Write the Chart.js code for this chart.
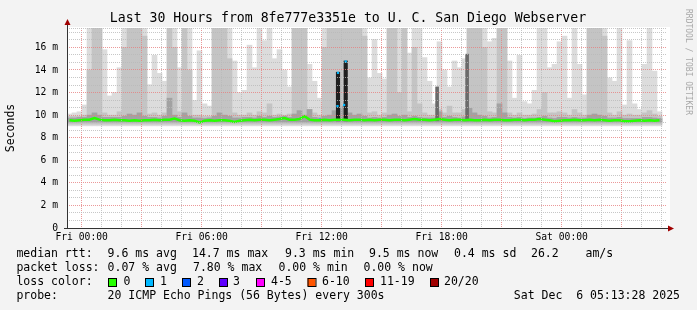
<!DOCTYPE html>
<html>
<head>
<meta charset="utf-8">
<script src="https://cdn.jsdelivr.net/npm/chart.js@4.4.1/dist/chart.umd.min.js"></script>
<style>
  html, body { margin: 0; padding: 0; background: #f3f3f3; }
  canvas { display: block; }
</style>
</head>
<body>
<canvas id="smoke" width="697" height="310"></canvas>
<script>
// time axis in hours, Fri 00:00 = 0
const hourStart = -0.735;
const hourEnd = 29.265;
const colStep = 0.25;

// smoke: top of the light band (outer pings), in ms
const smokeHigh = [
  10.1, 10.2, 10.3, 10.9, 18, 18, 18, 15.8, 11.7, 12.0,
  14.2, 18, 18, 18, 18, 18, 12.7, 15.3, 13.7, 13.0,
  18, 18, 14.2, 18, 18, 11.3, 15.7, 11.0, 10.8, 18,
  18, 18, 18, 14.8, 12.0, 12.2, 16.2, 14.2, 18, 16.6,
  18, 15.0, 15.8, 14.0, 12.5, 18, 18, 18, 14.5, 13.0,
  11.5, 18, 18, 18, 18, 18, 18, 18, 18, 18,
  13.3, 16.7, 13.7, 13.2, 18, 18, 18, 18, 15.5, 18,
  18, 15.1, 13.0, 11.0, 16.5, 14.0, 12.5, 14.8, 14.2, 15.0,
  18, 18, 18, 18, 16.5, 16.8, 18, 18, 14.8, 11.5,
  15.3, 11.2, 11.0, 12.2, 18, 18, 14.2, 14.5, 16.5, 17.0,
  11.5, 18, 14.5, 11.8, 18, 18, 18, 18, 13.3, 13.0,
  18, 10.9, 16.6, 11.0, 10.5, 14.5, 18, 13.9, 10.3
];
// smoke: top of the middle band
const smokeMid = [
  9.9, 9.9, 9.9, 10.0, 14.0, 18, 18, 10.2, 10.0, 10.0,
  10.3, 16.0, 18, 18, 18, 17.0, 10.1, 10.2, 10.0, 10.2,
  18, 16.0, 10.3, 18, 14.0, 10.0, 10.0, 9.9, 9.9, 18,
  18, 18, 15.0, 10.2, 10.0, 10.0, 10.2, 10.0, 10.3, 10.2,
  11.0, 10.0, 10.1, 10.0, 10.1, 18, 18, 18, 10.5, 10.2,
  10.0, 16.0, 18, 18, 18, 18, 18, 18, 18, 17.0,
  10.2, 10.3, 10.0, 10.2, 18, 18, 12.0, 18, 10.3, 16.0,
  11.0, 10.2, 10.0, 10.0, 10.5, 10.2, 10.8, 10.2, 10.2, 10.5,
  18, 18, 18, 16.0, 10.3, 10.2, 18, 18, 10.2, 10.0,
  10.2, 10.0, 10.0, 10.1, 10.5, 12.0, 10.2, 10.2, 10.3, 10.2,
  10.0, 10.5, 10.2, 10.0, 18, 18, 18, 17.0, 10.2, 10.0,
  10.3, 10.0, 10.1, 10.0, 10.0, 10.2, 10.4, 10.1, 9.9
];
// smoke: top of the dark band around the median
const smokeDark = [
  9.75, 9.75, 9.8, 9.8, 10.0, 10.2, 10.0, 9.8, 9.8, 9.8,
  9.8, 9.9, 10.1, 10.0, 10.2, 9.9, 9.8, 9.8, 9.75, 9.9,
  11.5, 10.0, 9.8, 10.2, 9.9, 9.75, 9.75, 9.7, 9.75, 9.9,
  10.2, 10.0, 9.9, 9.75, 9.75, 9.8, 9.8, 9.75, 9.9, 9.8,
  9.9, 9.8, 9.85, 9.9, 9.8, 10.1, 10.4, 10.0, 10.5, 9.8,
  9.75, 9.9, 10.0, 10.4, 10.6, 10.8, 10.2, 10.0, 10.1, 9.9,
  9.75, 9.8, 9.75, 9.8, 10.0, 10.1, 9.9, 10.0, 9.8, 9.9,
  9.8, 9.75, 9.75, 9.75, 10.3, 9.8, 9.9, 9.8, 9.75, 9.85,
  10.6, 10.2, 10.0, 9.9, 9.75, 9.8, 11.0, 10.2, 9.8, 9.75,
  9.8, 9.7, 9.75, 9.75, 9.8, 9.9, 9.75, 9.7, 9.8, 9.8,
  9.75, 9.8, 9.75, 9.75, 10.0, 10.1, 10.0, 9.9, 9.75, 9.75,
  9.8, 9.7, 9.7, 9.7, 9.7, 9.8, 9.8, 9.75, 9.7
];
// median rtt line
const medianRtt = [
  9.55, 9.5, 9.55, 9.6, 9.6, 9.75, 9.6, 9.55, 9.55, 9.6,
  9.55, 9.55, 9.5, 9.55, 9.5, 9.55, 9.55, 9.6, 9.55, 9.6,
  9.6, 9.7, 9.55, 9.5, 9.55, 9.5, 9.35, 9.5, 9.55, 9.5,
  9.55, 9.55, 9.5, 9.4, 9.5, 9.55, 9.6, 9.55, 9.6, 9.6,
  9.55, 9.6, 9.65, 9.75, 9.6, 9.6, 9.65, 9.9, 9.6, 9.55,
  9.55, 9.6, 9.55, 9.6, 9.6, 9.6, 9.55, 9.6, 9.6, 9.55,
  9.6, 9.55, 9.6, 9.6, 9.55, 9.6, 9.6, 9.55, 9.6, 9.65,
  9.6, 9.6, 9.55, 9.6, 9.65, 9.6, 9.55, 9.6, 9.6, 9.55,
  9.6, 9.55, 9.55, 9.6, 9.55, 9.6, 9.6, 9.55, 9.55, 9.6,
  9.6, 9.55, 9.6, 9.6, 9.65, 9.6, 9.55, 9.45, 9.5, 9.55,
  9.55, 9.6, 9.55, 9.55, 9.6, 9.55, 9.6, 9.55, 9.5, 9.55,
  9.55, 9.45, 9.45, 9.5, 9.55, 9.5, 9.55, 9.5, 9.55
];
const smokeLow = 9.05, midLow = 9.2, darkLow = 9.38;

// short periods where the median jumped (all pings slow)
const spikeHours = [12.815, 13.2];
const spikeTops = [13.8, 14.8];
const greySpikeHours = [17.77, 19.27];
const greySpikeTops = [12.5, 15.4];
// median points with 1/20 loss
const lossOneHours = [12.815, 12.79, 13.2, 13.12, 11.92, 16.75];
const lossOneRtt = [13.75, 10.8, 14.75, 10.9, 9.6, 9.65];

const xLabels = { 0: 'Fri 00:00', 6: 'Fri 06:00', 12: 'Fri 12:00', 18: 'Fri 18:00', 24: 'Sat 00:00' };
const yMax = 17.72;

const lossColors = ['#26ff00', '#00b8ff', '#0059ff', '#5e00ff', '#ff00fe', '#ff5500', '#ff0000', '#a00000'];
const lossNames = ['0', '1', '2', '3', '4-5', '6-10', '11-19', '20/20'];

const colHour = i => hourStart + colStep * (i + 0.5);
const band = (tops, low) => tops.map((v, i) => ({ x: colHour(i), y: [low, v] }));

const MONO = '"DejaVu Sans Mono", monospace';

const decor = {
  id: 'decor',
  beforeDraw(chart) {
    const { ctx, chartArea: a } = chart;
    ctx.save();
    ctx.fillStyle = '#f3f3f3';
    ctx.fillRect(0, 0, chart.width, chart.height);
    ctx.fillStyle = '#ffffff';
    ctx.fillRect(a.left, a.top - 1, a.right - a.left + 3, a.bottom - a.top + 1);
    ctx.restore();
  },
  afterDraw(chart) {
    const { ctx, chartArea: a } = chart;
    ctx.save();
    // axes
    ctx.strokeStyle = '#333';
    ctx.lineWidth = 1;
    ctx.beginPath();
    ctx.moveTo(a.left + 0.5, a.bottom + 1);
    ctx.lineTo(a.left + 0.5, a.top - 5);
    ctx.moveTo(a.left - 3, a.bottom + 0.5);
    ctx.lineTo(a.right + 3, a.bottom + 0.5);
    ctx.stroke();
    ctx.fillStyle = '#a00000';
    ctx.beginPath();
    ctx.moveTo(a.left - 2.5, a.top - 3);
    ctx.lineTo(a.left + 3.5, a.top - 3);
    ctx.lineTo(a.left + 0.5, a.top - 9);
    ctx.fill();
    ctx.beginPath();
    ctx.moveTo(a.right + 1, a.bottom - 2.5);
    ctx.lineTo(a.right + 1, a.bottom + 3.5);
    ctx.lineTo(a.right + 7, a.bottom + 0.5);
    ctx.fill();

    // title
    ctx.fillStyle = '#000';
    ctx.textBaseline = 'middle';
    ctx.textAlign = 'center';
    ctx.font = '13.2px ' + MONO;
    ctx.fillText('Last 30 Hours from 8fe777e3351e to U. C. San Diego Webserver', 348, 19);

    // y title
    ctx.save();
    ctx.translate(11, 128);
    ctx.rotate(-Math.PI / 2);
    ctx.font = '11.5px ' + MONO;
    ctx.fillText('Seconds', 0, 0);
    ctx.restore();

    // watermark
    ctx.save();
    ctx.translate(688, 62);
    ctx.rotate(Math.PI / 2);
    ctx.font = '8px ' + MONO;
    ctx.fillStyle = '#a8a8a8';
    ctx.fillText('RRDTOOL / TOBI OETIKER', 0, 0);
    ctx.restore();

    // legend
    ctx.textAlign = 'left';
    ctx.font = '11.5px ' + MONO;
    const put = (x, y, s) => ctx.fillText(s, x, y);
    put(16.4, 254, 'median rtt:');
    put(107.6, 254, '9.6 ms avg');
    put(192, 254, '14.7 ms max');
    put(285, 254, '9.3 ms min');
    put(369, 254, '9.5 ms now');
    put(454, 254, '0.4 ms sd');
    put(531, 254, '26.2');
    put(585.5, 254, 'am/s');

    put(16.4, 268, 'packet loss:');
    put(107.6, 268, '0.07 % avg');
    put(193, 268, '7.80 % max');
    put(278.5, 268, '0.00 % min');
    put(363.5, 268, '0.00 % now');

    put(16.4, 282, 'loss color:');
    const boxX = [108, 145, 182, 219, 256, 307.5, 365, 430];
    const nameX = [123.5, 160, 197, 233, 271, 322, 380, 444];
    lossColors.forEach((c, i) => {
      ctx.fillStyle = c;
      ctx.fillRect(boxX[i], 278, 8, 8);
      ctx.strokeStyle = '#000';
      ctx.strokeRect(boxX[i] + 0.5, 278.5, 8, 8);
      ctx.fillStyle = '#000';
      put(nameX[i], 282, lossNames[i]);
    });

    put(16.4, 296, 'probe:');
    put(107.6, 296, '20 ICMP Echo Pings (56 Bytes) every 300s');
    ctx.textAlign = 'right';
    put(680, 296, 'Sat Dec  6 05:13:28 2025');
    ctx.restore();
  }
};

const hourTicks = [];
for (let h = 0; h <= 29; h++) hourTicks.push(h);
const rttTicks = [];
for (let k = 0; k <= 26; k++) rttTicks.push(k * 2 / 3);
rttTicks.push(yMax);
const isEven = v => Math.abs(v / 2 - Math.round(v / 2)) < 1e-6;

new Chart(document.getElementById('smoke'), {
  type: 'bar',
  data: {
    datasets: [
      {
        type: 'line', data: medianRtt.map((v, i) => ({ x: colHour(i), y: v })),
        borderColor: '#26ff00', borderWidth: 2.5, pointRadius: 0, tension: 0, order: 0
      },
      {
        type: 'scatter', data: lossOneHours.map((h, i) => ({ x: h, y: lossOneRtt[i] })),
        pointStyle: 'rect', pointRadius: 1.6, backgroundColor: '#00b8ff', borderWidth: 0, order: 0
      },
      {
        data: spikeHours.map((h, i) => ({ x: h, y: [9.5, spikeTops[i]] })),
        backgroundColor: '#1e1e1e', barThickness: 3.5, order: 1
      },
      {
        data: greySpikeHours.map((h, i) => ({ x: h, y: [9.5, greySpikeTops[i]] })),
        backgroundColor: '#6a6a6a', barThickness: 3, order: 2
      },
      { data: band(smokeDark, darkLow), backgroundColor: '#a2a2a2', barThickness: 5, order: 3 },
      { data: band(smokeMid, midLow), backgroundColor: '#c4c4c4', barThickness: 5, order: 4 },
      { data: band(smokeHigh, smokeLow), backgroundColor: '#dcdcdc', barThickness: 5, order: 5 }
    ]
  },
  options: {
    responsive: false,
    animation: false,
    devicePixelRatio: 1,
    layout: { padding: { left: 0, top: 28, right: 30, bottom: 0 } },
    datasets: { bar: { grouped: false, borderWidth: 0 } },
    plugins: { legend: { display: false }, tooltip: { enabled: false } },
    scales: {
      x: {
        type: 'linear', min: hourStart, max: hourEnd, offset: false,
        afterBuildTicks: s => { s.ticks = hourTicks.map(v => ({ value: v })); },
        afterFit: s => { s.height = 82; },
        grid: {
          offset: false, drawTicks: false, z: 1, lineWidth: 1,
          color: c => (c.tick && c.tick.value % 3 === 0) ? 'rgba(230,128,128,0.8)' : 'rgba(185,185,185,0.8)'
        },
        border: { display: false, dash: [1, 1] },
        ticks: {
          autoSkip: false, maxRotation: 0, padding: 4, color: '#000',
          font: { family: MONO, size: 9.7 },
          callback: v => xLabels[v] || ''
        }
      },
      y: {
        type: 'linear', min: 0, max: yMax,
        afterBuildTicks: s => { s.ticks = rttTicks.map(v => ({ value: v })); },
        afterFit: s => { s.width = 67; },
        grid: {
          drawTicks: false, z: 1, lineWidth: 1,
          color: c => (c.tick && isEven(c.tick.value)) ? 'rgba(230,128,128,0.8)' : 'rgba(185,185,185,0.8)'
        },
        border: { display: false, dash: [1, 1] },
        ticks: {
          autoSkip: false, padding: 9, color: '#000',
          font: { family: MONO, size: 9.7 },
          callback: v => isEven(v) ? (Math.round(v) === 0 ? '0' : Math.round(v) + ' m') : ''
        }
      }
    }
  },
  plugins: [decor]
});
</script>
</body>
</html>
